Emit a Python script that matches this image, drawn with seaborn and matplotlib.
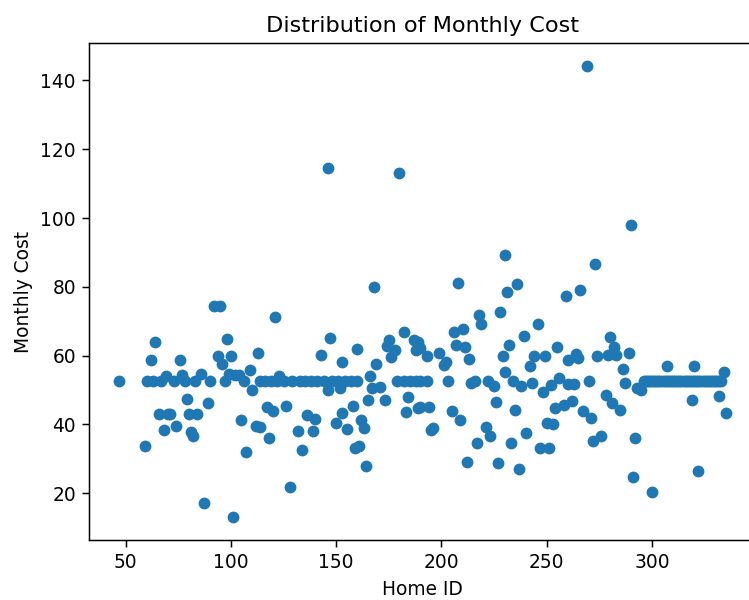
import matplotlib
matplotlib.use("Agg")
import matplotlib.pyplot as plt
import seaborn as sns
import pandas as pd

# Monthly cost per home
home_id = [
    47, 59, 60, 62, 63, 64, 66, 67, 68, 69, 70, 71, 73, 74, 76, 77, 78, 79, 80, 81,
    82, 83, 84, 86, 87, 89, 90, 92, 94, 95, 96, 97, 98, 99, 100, 101, 102, 104, 105, 106,
    107, 109, 110, 112, 113, 114, 114, 116, 117, 118, 119, 120, 121, 122, 123, 125, 126, 128, 129, 132,
    133, 134, 135, 136, 138, 139, 140, 141, 143, 144, 146, 146, 147, 148, 150, 151, 152, 153, 153, 154,
    155, 157, 158, 159, 160, 160, 161, 162, 163, 164, 165, 166, 167, 168, 169, 171, 173, 174, 175, 176,
    178, 179, 180, 182, 182, 183, 184, 185, 187, 188, 188, 189, 189, 190, 190, 190, 193, 193, 194, 195,
    196, 199, 201, 202, 203, 205, 206, 207, 208, 209, 210, 211, 212, 213, 214, 216, 217, 218, 219, 221,
    222, 223, 225, 226, 227, 228, 229, 230, 230, 231, 232, 233, 234, 235, 236, 237, 238, 239, 240, 242,
    243, 244, 246, 247, 248, 249, 250, 251, 252, 253, 254, 255, 256, 258, 259, 260, 260, 262, 263, 264,
    265, 266, 267, 269, 270, 271, 272, 273, 274, 276, 278, 279, 280, 281, 282, 283, 285, 286, 287, 289,
    290, 291, 292, 293, 295, 296, 297, 298, 299, 300, 300, 301, 302, 303, 304, 305, 306, 307, 307, 308,
    309, 310, 311, 312, 313, 314, 315, 316, 317, 318, 319, 319, 320, 320, 321, 322, 322, 323, 324, 325,
    326, 327, 328, 329, 330, 331, 332, 332, 333, 334, 335,
]

monthly_cost = [
    52.5, 33.7, 52.5, 58.6, 52.5, 63.9, 43.1, 52.5, 38.5, 54.2, 43.1, 43.1, 52.5, 39.7, 58.6, 54.5, 52.5, 47.4, 43.1, 37.8,
    36.6, 52.5, 43.1, 54.8, 17.3, 46.3, 52.5, 74.3, 60.0, 74.3, 57.7, 52.5, 64.9, 54.8, 60.0, 13.0, 54.5, 54.5, 41.2, 52.5,
    32.0, 55.9, 50.1, 39.5, 60.8, 52.5, 39.3, 52.5, 45.0, 36.1, 52.5, 43.9, 71.2, 52.5, 54.2, 52.5, 45.5, 21.7, 52.5, 38.1,
    52.5, 32.6, 52.5, 42.9, 52.5, 38.1, 41.7, 52.5, 60.3, 52.5, 50.1, 114.5, 65.0, 52.5, 40.3, 52.5, 50.6, 58.1, 43.2, 52.5,
    38.8, 52.5, 45.5, 33.2, 61.9, 52.5, 33.7, 41.4, 39.0, 27.9, 47.2, 54.0, 50.5, 79.9, 57.7, 50.9, 47.2, 62.7, 64.5, 59.5,
    61.7, 52.5, 113.0, 66.8, 52.5, 43.6, 48.0, 52.5, 64.6, 61.7, 52.5, 44.8, 64.1, 62.2, 52.5, 45.1, 59.8, 52.5, 45.1, 38.3,
    39.0, 60.8, 57.4, 58.3, 52.5, 43.9, 67.0, 63.2, 81.1, 41.2, 67.7, 62.5, 29.2, 59.1, 52.0, 52.5, 34.5, 71.9, 69.2, 39.3,
    52.5, 36.6, 51.1, 46.6, 28.7, 72.8, 60.0, 55.2, 89.3, 78.6, 63.2, 34.5, 52.5, 44.3, 80.9, 27.2, 51.1, 65.8, 37.6, 56.9,
    52.1, 60.0, 69.3, 33.2, 49.4, 60.0, 40.5, 33.2, 51.6, 40.0, 44.8, 62.5, 53.5, 45.8, 77.2, 51.9, 58.8, 46.8, 51.9, 60.6,
    59.3, 79.1, 44.0, 144.3, 52.5, 41.9, 35.2, 86.6, 60.0, 36.6, 48.7, 60.3, 65.4, 46.3, 62.5, 60.3, 44.3, 56.1, 52.1, 60.8,
    98.0, 24.6, 36.1, 50.6, 50.1, 52.5, 52.5, 52.5, 52.5, 52.5, 20.5, 52.5, 52.5, 52.5, 52.5, 52.5, 52.5, 52.5, 57.1, 52.5,
    52.5, 52.5, 52.5, 52.5, 52.5, 52.5, 52.5, 52.5, 52.5, 52.5, 52.5, 47.2, 52.5, 57.1, 52.5, 52.5, 26.5, 52.5, 52.5, 52.5,
    52.5, 52.5, 52.5, 52.5, 52.5, 52.5, 52.5, 48.4, 52.5, 55.4, 43.3,
]

df = pd.DataFrame({"Home ID": home_id, "Monthly Cost": monthly_cost})

DPI = 134.5
fig = plt.figure(figsize=(749 / DPI, 600 / DPI), dpi=DPI)
ax = fig.add_axes([89 / 749, 60 / 600, 667 / 749, 497 / 600])

sns.scatterplot(
    data=df, x="Home ID", y="Monthly Cost", ax=ax,
    s=40, color="#1f77b4", linewidth=0,
)
ax.set_title("Distribution of Monthly Cost")

fig.savefig("out.png", dpi=DPI)
